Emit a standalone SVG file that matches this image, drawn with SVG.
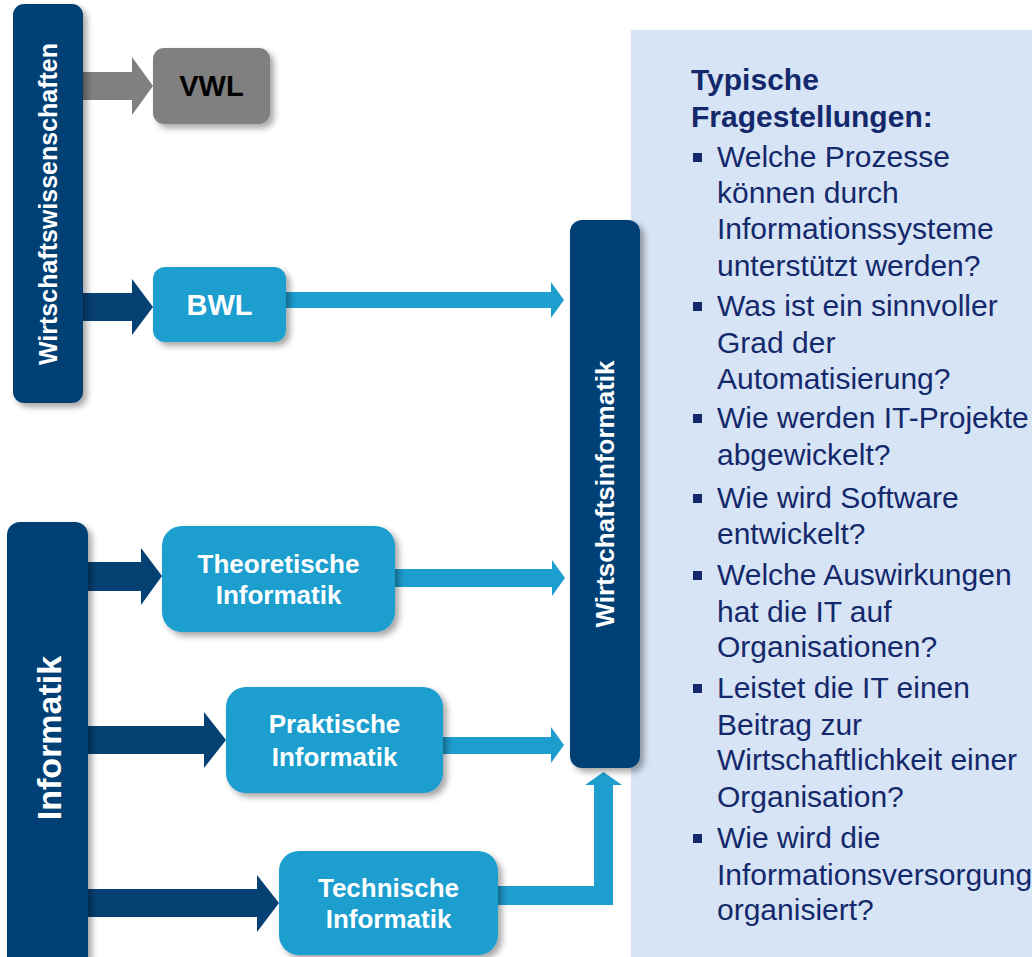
<svg xmlns="http://www.w3.org/2000/svg" width="1032" height="957" viewBox="0 0 1032 957">
<defs>
<filter id="sh" x="-20%" y="-20%" width="150%" height="150%">
<feDropShadow dx="4" dy="4" stdDeviation="3" flood-color="#000" flood-opacity="0.35"/>
</filter>
<style>
.navy{fill:#064174}
.lb{fill:#1d9ecf}
.gray{fill:#808080}
.bt{font-family:"Liberation Sans",Arial,sans-serif;font-weight:bold;fill:#fff;text-anchor:middle}
.pt{font-family:"Liberation Sans",Arial,sans-serif;font-size:30px;fill:#13296b}
.ph{font-weight:bold}
.bul{fill:#13296b}
</style>
</defs>
<rect x="0" y="0" width="1032" height="957" fill="#fff"/>
<g id="panel">
<rect x="631" y="30" width="401" height="927" fill="#d7e4f5"/>
<text class="pt ph" x="691" y="90">Typische</text>
<text class="pt ph" x="691" y="127">Fragestellungen:</text>
<g class="bul">
<rect x="693" y="153" width="9" height="9"/>
<rect x="693" y="302" width="9" height="9"/>
<rect x="693" y="414" width="9" height="9"/>
<rect x="693" y="494" width="9" height="9"/>
<rect x="693" y="571" width="9" height="9"/>
<rect x="693" y="684" width="9" height="9"/>
<rect x="693" y="834" width="9" height="9"/>
</g>
<text class="pt" x="717" y="167">Welche Prozesse</text>
<text class="pt" x="717" y="203">können durch</text>
<text class="pt" x="717" y="239">Informationssysteme</text>
<text class="pt" x="717" y="276">unterstützt werden?</text>
<text class="pt" x="717" y="316">Was ist ein sinnvoller</text>
<text class="pt" x="717" y="353">Grad der</text>
<text class="pt" x="717" y="389">Automatisierung?</text>
<text class="pt" x="717" y="428">Wie werden IT-Projekte</text>
<text class="pt" x="717" y="465">abgewickelt?</text>
<text class="pt" x="717" y="508">Wie wird Software</text>
<text class="pt" x="717" y="544">entwickelt?</text>
<text class="pt" x="717" y="585">Welche Auswirkungen</text>
<text class="pt" x="717" y="622">hat die IT auf</text>
<text class="pt" x="717" y="657">Organisationen?</text>
<text class="pt" x="717" y="698">Leistet die IT einen</text>
<text class="pt" x="717" y="735">Beitrag zur</text>
<text class="pt" x="717" y="770">Wirtschaftlichkeit einer</text>
<text class="pt" x="717" y="807">Organisation?</text>
<text class="pt" x="717" y="848">Wie wird die</text>
<text class="pt" x="717" y="885">Informationsversorgung</text>
<text class="pt" x="717" y="920">organisiert?</text>
</g>
<g id="connectors">
<polygon class="gray" points="80,72 132,72 132,57 153,86 132,115 132,100 80,100"/>
<polygon class="navy" points="80,293 132,293 132,279 153,307 132,335 132,321 80,321"/>
<polygon class="navy" points="85,562 141,562 141,548 162,576 141,605 141,591 85,591"/>
<polygon class="navy" points="85,726 204,726 204,712 226,740 204,768 204,754 85,754"/>
<polygon class="navy" points="85,889 257,889 257,875 279,903 257,932 257,917 85,917"/>
<polygon class="lb" points="280,292 551,292 551,282 564,300 551,318 551,308 280,308"/>
<polygon class="lb" points="390,569 552,569 552,560 565,578 552,596 552,587 390,587"/>
<polygon class="lb" points="438,737 551,737 551,727 564,745 551,763 551,754 438,754"/>
<polygon class="lb" points="492,886 594,886 594,785 585,785 603.5,772 622,785 613,785 613,905 492,905"/>
</g>
<g id="wiwi">
<rect x="13" y="4" width="70" height="399" rx="11" class="navy" filter="url(#sh)"/>
<text class="bt" font-size="25" transform="translate(57,204) rotate(-90)">Wirtschaftswissenschaften</text>
</g>
<g id="vwl">
<rect x="153" y="48" width="117" height="76" rx="11" class="gray" filter="url(#sh)"/>
<text class="bt" font-size="29" x="211.5" y="96" style="fill:#000">VWL</text>
</g>
<g id="bwl">
<rect x="153" y="267" width="133" height="75" rx="12" class="lb" filter="url(#sh)"/>
<text class="bt" font-size="29" x="219.5" y="315">BWL</text>
</g>
<g id="informatik">
<rect x="7" y="522" width="81" height="450" rx="13" class="navy" filter="url(#sh)"/>
<text class="bt" font-size="34" transform="translate(61,738) rotate(-90)">Informatik</text>
</g>
<g id="theoretische">
<rect x="162" y="526" width="233" height="106" rx="20" class="lb" filter="url(#sh)"/>
<text class="bt" font-size="26" x="278.5" y="573">Theoretische</text>
<text class="bt" font-size="26" x="278.5" y="604">Informatik</text>
</g>
<g id="praktische">
<rect x="226" y="687" width="217" height="106" rx="20" class="lb" filter="url(#sh)"/>
<text class="bt" font-size="26" x="334.5" y="733">Praktische</text>
<text class="bt" font-size="26" x="334.5" y="766">Informatik</text>
</g>
<g id="technische">
<rect x="279" y="851" width="219" height="104" rx="20" class="lb" filter="url(#sh)"/>
<text class="bt" font-size="26" x="388.5" y="897">Technische</text>
<text class="bt" font-size="26" x="388.5" y="928">Informatik</text>
</g>
<g id="wirtschaftsinformatik">
<rect x="570" y="220" width="70" height="548" rx="12" class="navy" filter="url(#sh)"/>
<text class="bt" font-size="26" transform="translate(614,494) rotate(-90)">Wirtschaftsinformatik</text>
</g>
</svg>
